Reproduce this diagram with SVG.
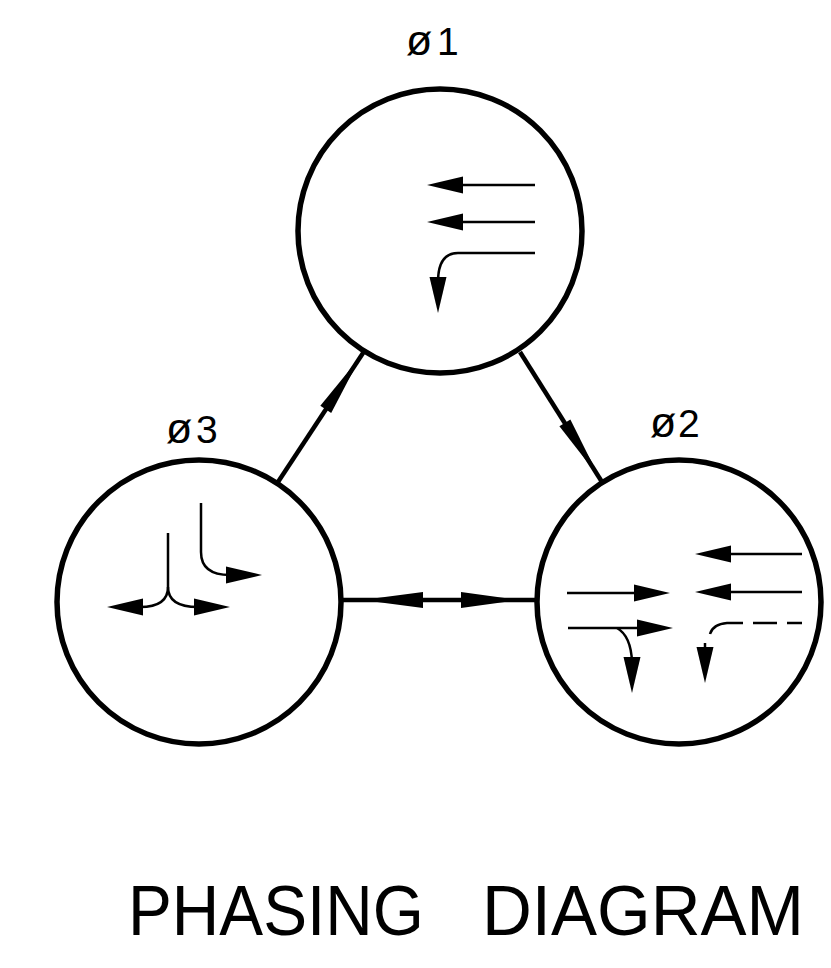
<svg xmlns="http://www.w3.org/2000/svg" xmlns:xlink="http://www.w3.org/1999/xlink" width="831" height="968" viewBox="0 0 831 968">
<style>
.node{fill:none;stroke:#000;stroke-width:5.5}
.conn{fill:none;stroke:#000;stroke-width:4.5}
.flow{fill:none;stroke:#000;stroke-width:2.5}
.head{fill:#000;stroke:none}
.lbl{font-family:"Liberation Sans",Arial,sans-serif;font-size:39px;fill:#000}
.phi{font-size:43px}
.title{font-family:"Liberation Sans",Arial,sans-serif;font-size:71px;fill:#000}
</style>
<defs>
<path id="ah" d="M0,0 L-36,-8.5 L-36,8.5 Z"/>
<path id="ch" d="M0,0 L-64,-6.5 L-64,6.5 Z"/>
</defs>
<rect width="831" height="968" fill="#fff"/>
<g id="connectors">
<line class="conn" x1="278" y1="482" x2="365" y2="350"/>
<use class="head" xlink:href="#ch" href="#ch" transform="translate(361,356) rotate(-56.6)"/>
<line class="conn" x1="520" y1="352" x2="602" y2="482"/>
<use class="head" xlink:href="#ch" href="#ch" transform="translate(599,477) rotate(57.8)"/>
<line class="conn" x1="343" y1="600" x2="535" y2="600"/>
<path class="head" d="M362,600 L423,592 L423,608 Z"/>
<path class="head" d="M520,600 L461,592 L461,608 Z"/>
</g>
<g id="phase1">
<circle class="node" cx="440" cy="231" r="142"/>
<text class="lbl"><tspan class="phi" x="406" y="55">ø</tspan><tspan x="437" y="55">1</tspan></text>
<line class="flow" x1="460" y1="185" x2="535" y2="185"/>
<use class="head" xlink:href="#ah" href="#ah" transform="translate(427,185) rotate(180)"/>
<line class="flow" x1="460" y1="222" x2="535" y2="222"/>
<use class="head" xlink:href="#ah" href="#ah" transform="translate(427,222) rotate(180)"/>
<path class="flow" d="M535,253 H458 Q438,253 438,282"/>
<use class="head" xlink:href="#ah" href="#ah" transform="translate(438,313) rotate(90)"/>
</g>
<g id="phase2">
<circle class="node" cx="679" cy="602" r="142"/>
<text class="lbl"><tspan class="phi" x="650" y="437">ø</tspan><tspan x="678" y="437">2</tspan></text>
<line class="flow" x1="567" y1="593" x2="640" y2="593"/>
<use class="head" xlink:href="#ah" href="#ah" transform="translate(670,593) rotate(0)"/>
<line class="flow" x1="568" y1="628" x2="642" y2="628"/>
<use class="head" xlink:href="#ah" href="#ah" transform="translate(673,628) rotate(0)"/>
<path class="flow" d="M617,628 Q631,636 632,662"/>
<use class="head" xlink:href="#ah" href="#ah" transform="translate(632,693) rotate(90)"/>
<line class="flow" x1="730" y1="554" x2="802" y2="554"/>
<use class="head" xlink:href="#ah" href="#ah" transform="translate(695,554) rotate(180)"/>
<line class="flow" x1="730" y1="592" x2="802" y2="592"/>
<use class="head" xlink:href="#ah" href="#ah" transform="translate(695,592) rotate(180)"/>
<line class="flow" x1="787" y1="623" x2="802" y2="623"/>
<line class="flow" x1="753" y1="623" x2="777" y2="623"/>
<path class="flow" d="M743,623 H727 Q713,624 710,634"/>
<line class="flow" x1="705" y1="643" x2="705" y2="652"/>
<use class="head" xlink:href="#ah" href="#ah" transform="translate(705,683) rotate(90)"/>
</g>
<g id="phase3">
<circle class="node" cx="199" cy="602" r="142"/>
<text class="lbl"><tspan class="phi" x="166" y="443">ø</tspan><tspan x="196" y="443">3</tspan></text>
<path class="flow" d="M201,503 V552 Q201,575 230,575"/>
<use class="head" xlink:href="#ah" href="#ah" transform="translate(262,575) rotate(0)"/>
<path class="flow" d="M168,533 V587 Q168,607 140,607"/>
<use class="head" xlink:href="#ah" href="#ah" transform="translate(107,607) rotate(180)"/>
<path class="flow" d="M168,587 Q168,607 198,607"/>
<use class="head" xlink:href="#ah" href="#ah" transform="translate(230,607) rotate(0)"/>
</g>
<g id="title">
<text class="title" x="128" y="935" textLength="296" lengthAdjust="spacingAndGlyphs">PHASING</text>
<text class="title" x="482" y="935" textLength="322" lengthAdjust="spacingAndGlyphs">DIAGRAM</text>
</g>
</svg>
